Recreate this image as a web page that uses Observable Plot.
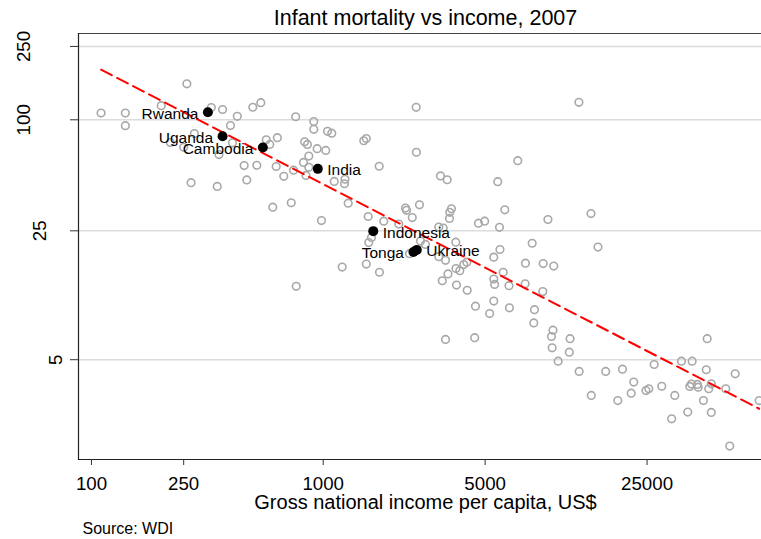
<!DOCTYPE html>
<html><head><meta charset="utf-8">
<script src="https://cdn.jsdelivr.net/npm/d3@7"></script>
<script src="https://cdn.jsdelivr.net/npm/@observablehq/plot@0.6"></script>
<style>
body{margin:0;background:#fff;}
svg{font-family:"Liberation Sans",Arial,Helvetica,sans-serif;}
</style>
</head><body><div id="chart"></div>
<script>
const title = "Infant mortality vs income, 2007";
const xLabel = "Gross national income per capita, US$";
const source = "Source: WDI";
const xTicks = [100, 250, 1000, 5000, 25000];
const yTicks = [5, 25, 100, 250];

const income = [110,140,140,200,258,278,219,250,329,368,
426,398,406,355,269,349,456,468,497,538,
568,588,634,517,627,676,745,606,728,761,
911,911,1044,1089,832,855,942,1026,867,822,
867,843,1116,1242,1236,1282,983,1497,1535,1745,
1564,1826,2265,2289,2424,2120,2604,2520,2525,12700,
6918,3209,3429,5669,3578,3519,3508,6079,4680,4977,
5768,9333,3155,3296,3735,7980,5794,14315,15350,1616,
1573,1535,1208,1750,765,2630,2764,2358,3155,3373,
3266,3456,3742,3887,4045,4168,3761,4184,5449,7465,
8902,9892,5983,5449,5495,6339,7443,8867,5449,4543,
5231,6368,8166,8110,3373,4507,9813,9667,9734,11630,
11540,10330,12730,14360,16570,18690,19580,21350,21900,24730,
25430,26830,28930,31920,32930,35190,39130,37460,38210,38860,
41250,41540,43770,45010,45420,46150,47320,47320,54650,56870,
60010,76140];

const mortality = [108.9,108.9,92.9,119.3,156.7,84.3,75.3,71.0,116.6,113.7,
104.5,93.1,75.0,64.8,45.6,43.5,56.5,47.2,117.0,123.8,
77.9,73.5,80.0,56.7,55.8,49.4,53.3,33.6,35.5,103.9,
97.9,88.8,86.6,84.6,76.0,73.5,69.7,68.2,63.6,58.7,
55.3,49.9,46.3,47.6,45.0,35.3,28.4,77.0,79.2,56.0,
29.9,28.2,33.2,32.3,29.5,27.2,34.6,116.9,66.7,124.4,
60.0,49.6,47.3,46.2,32.9,31.5,29.2,32.5,27.5,28.2,
26.1,28.8,26.2,25.9,21.7,21.4,19.8,31.0,20.4,23.0,
21.6,16.5,15.9,14.9,12.5,22.0,21.1,18.8,18.1,17.3,
13.4,14.6,15.6,15.2,16.4,16.9,12.7,11.9,18.0,16.7,
16.6,16.1,14.9,13.7,12.8,12.6,12.9,11.7,10.4,9.75,
8.9,9.56,9.34,7.91,6.44,6.58,7.23,6.68,5.80,6.50,
5.49,4.91,4.32,3.20,4.32,3.00,4.44,3.29,3.78,3.40,
3.48,4.71,3.59,2.39,3.20,4.91,4.91,2.60,3.58,3.69,
3.67,3.55,3.00,4.41,6.50,3.48,3.70,2.59,3.48,1.70,
4.19,3.00];

const highlightCountry = ["Rwanda","Uganda","Cambodia","India","Indonesia","Tonga","Ukraine"];
const highlightIncome = [318, 368, 549, 948, 1645, 2453, 2535];
const highlightMortality = [109.9, 81.5, 70.8, 54.2, 24.9, 19.2, 19.7];
const highlightSide = ["left","left","left","right","right","left","right"];

// fitted log-log regression line (endpoints)
const fitIncome = [110, 76140];
const fitMortality = [187, 2.71];

const points = income.map((v, i) => ({income: v, mortality: mortality[i]}));
const highlights = highlightCountry.map((c, i) => ({country: c, income: highlightIncome[i], mortality: highlightMortality[i], side: highlightSide[i]}));
const fit = fitIncome.map((v, i) => ({income: v, mortality: fitMortality[i]}));

const fs = 18.7;
const yLabelMark = (len, dx) => Plot.text(yTicks.filter(d => String(d).length === len), {
  y: d => d, text: d => String(d), frameAnchor: "left", dx, rotate: -90,
  fontSize: fs, textAnchor: "middle", lineAnchor: "middle", fill: "#000"
});

const chart = Plot.plot({
  width: 761, height: 539,
  marginTop: 33, marginBottom: 80, marginLeft: 78, marginRight: 0,
  style: {background: "#fff", overflow: "visible"},
  x: {type: "log", domain: [87.9, 77950]},
  y: {type: "log", domain: [1.438, 293.8]},
  marks: [
    Plot.gridY({ticks: yTicks, stroke: "#dcdcdc", strokeOpacity: 1, strokeWidth: 1.4}),
    Plot.frame({anchor: "top", stroke: "#444", strokeWidth: 1.2}),
    Plot.frame({anchor: "left", stroke: "#222", strokeWidth: 1.2}),
    Plot.frame({anchor: "bottom", stroke: "#222", strokeWidth: 1.2}),
    Plot.axisX({ticks: xTicks, tickFormat: () => "", tickSize: 6, label: null, stroke: "#333"}),
    Plot.text(xTicks, {x: d => d, text: d => String(d), frameAnchor: "bottom", dy: 17, lineAnchor: "top", fontSize: fs, fill: "#000"}),
    Plot.axisY({ticks: yTicks, tickSize: 8, tickFormat: () => "", label: null, stroke: "#333"}),
    yLabelMark(3, -54),
    yLabelMark(2, -38.5),
    yLabelMark(1, -22.5),
    Plot.dot(points, {x: "income", y: "mortality", r: 3.8, stroke: "#a8a8a8", strokeWidth: 1.6, fill: "none"}),
    Plot.line(fit, {x: "income", y: "mortality", stroke: "#ff0000", strokeWidth: 2, strokeDasharray: "12,6"}),
    Plot.dot(highlights, {x: "income", y: "mortality", r: 5, fill: "#000"}),
    Plot.text(highlights.filter(d => d.side === "left"), {x: "income", y: "mortality", text: "country", textAnchor: "end", dx: -9.5, dy: 1.5, fontSize: 15.5, fill: "#000"}),
    Plot.text(highlights.filter(d => d.side === "right"), {x: "income", y: "mortality", text: "country", textAnchor: "start", dx: 9.5, dy: 1.5, fontSize: 15.5, fill: "#000"}),
    Plot.text([title], {text: d => d, frameAnchor: "top", dx: 5.5, dy: -15, fontSize: 21.5, lineAnchor: "middle", fill: "#000"}),
    Plot.text([xLabel], {text: d => d, frameAnchor: "bottom", dx: 5.5, dy: 43, fontSize: 20, lineAnchor: "middle", fill: "#000"}),
    Plot.text([source], {text: d => d, frameAnchor: "bottom-left", dx: 4, dy: 69, fontSize: 16, textAnchor: "start", lineAnchor: "middle", fill: "#000"})
  ]
});
document.getElementById("chart").appendChild(chart);
</script>
</body></html>
